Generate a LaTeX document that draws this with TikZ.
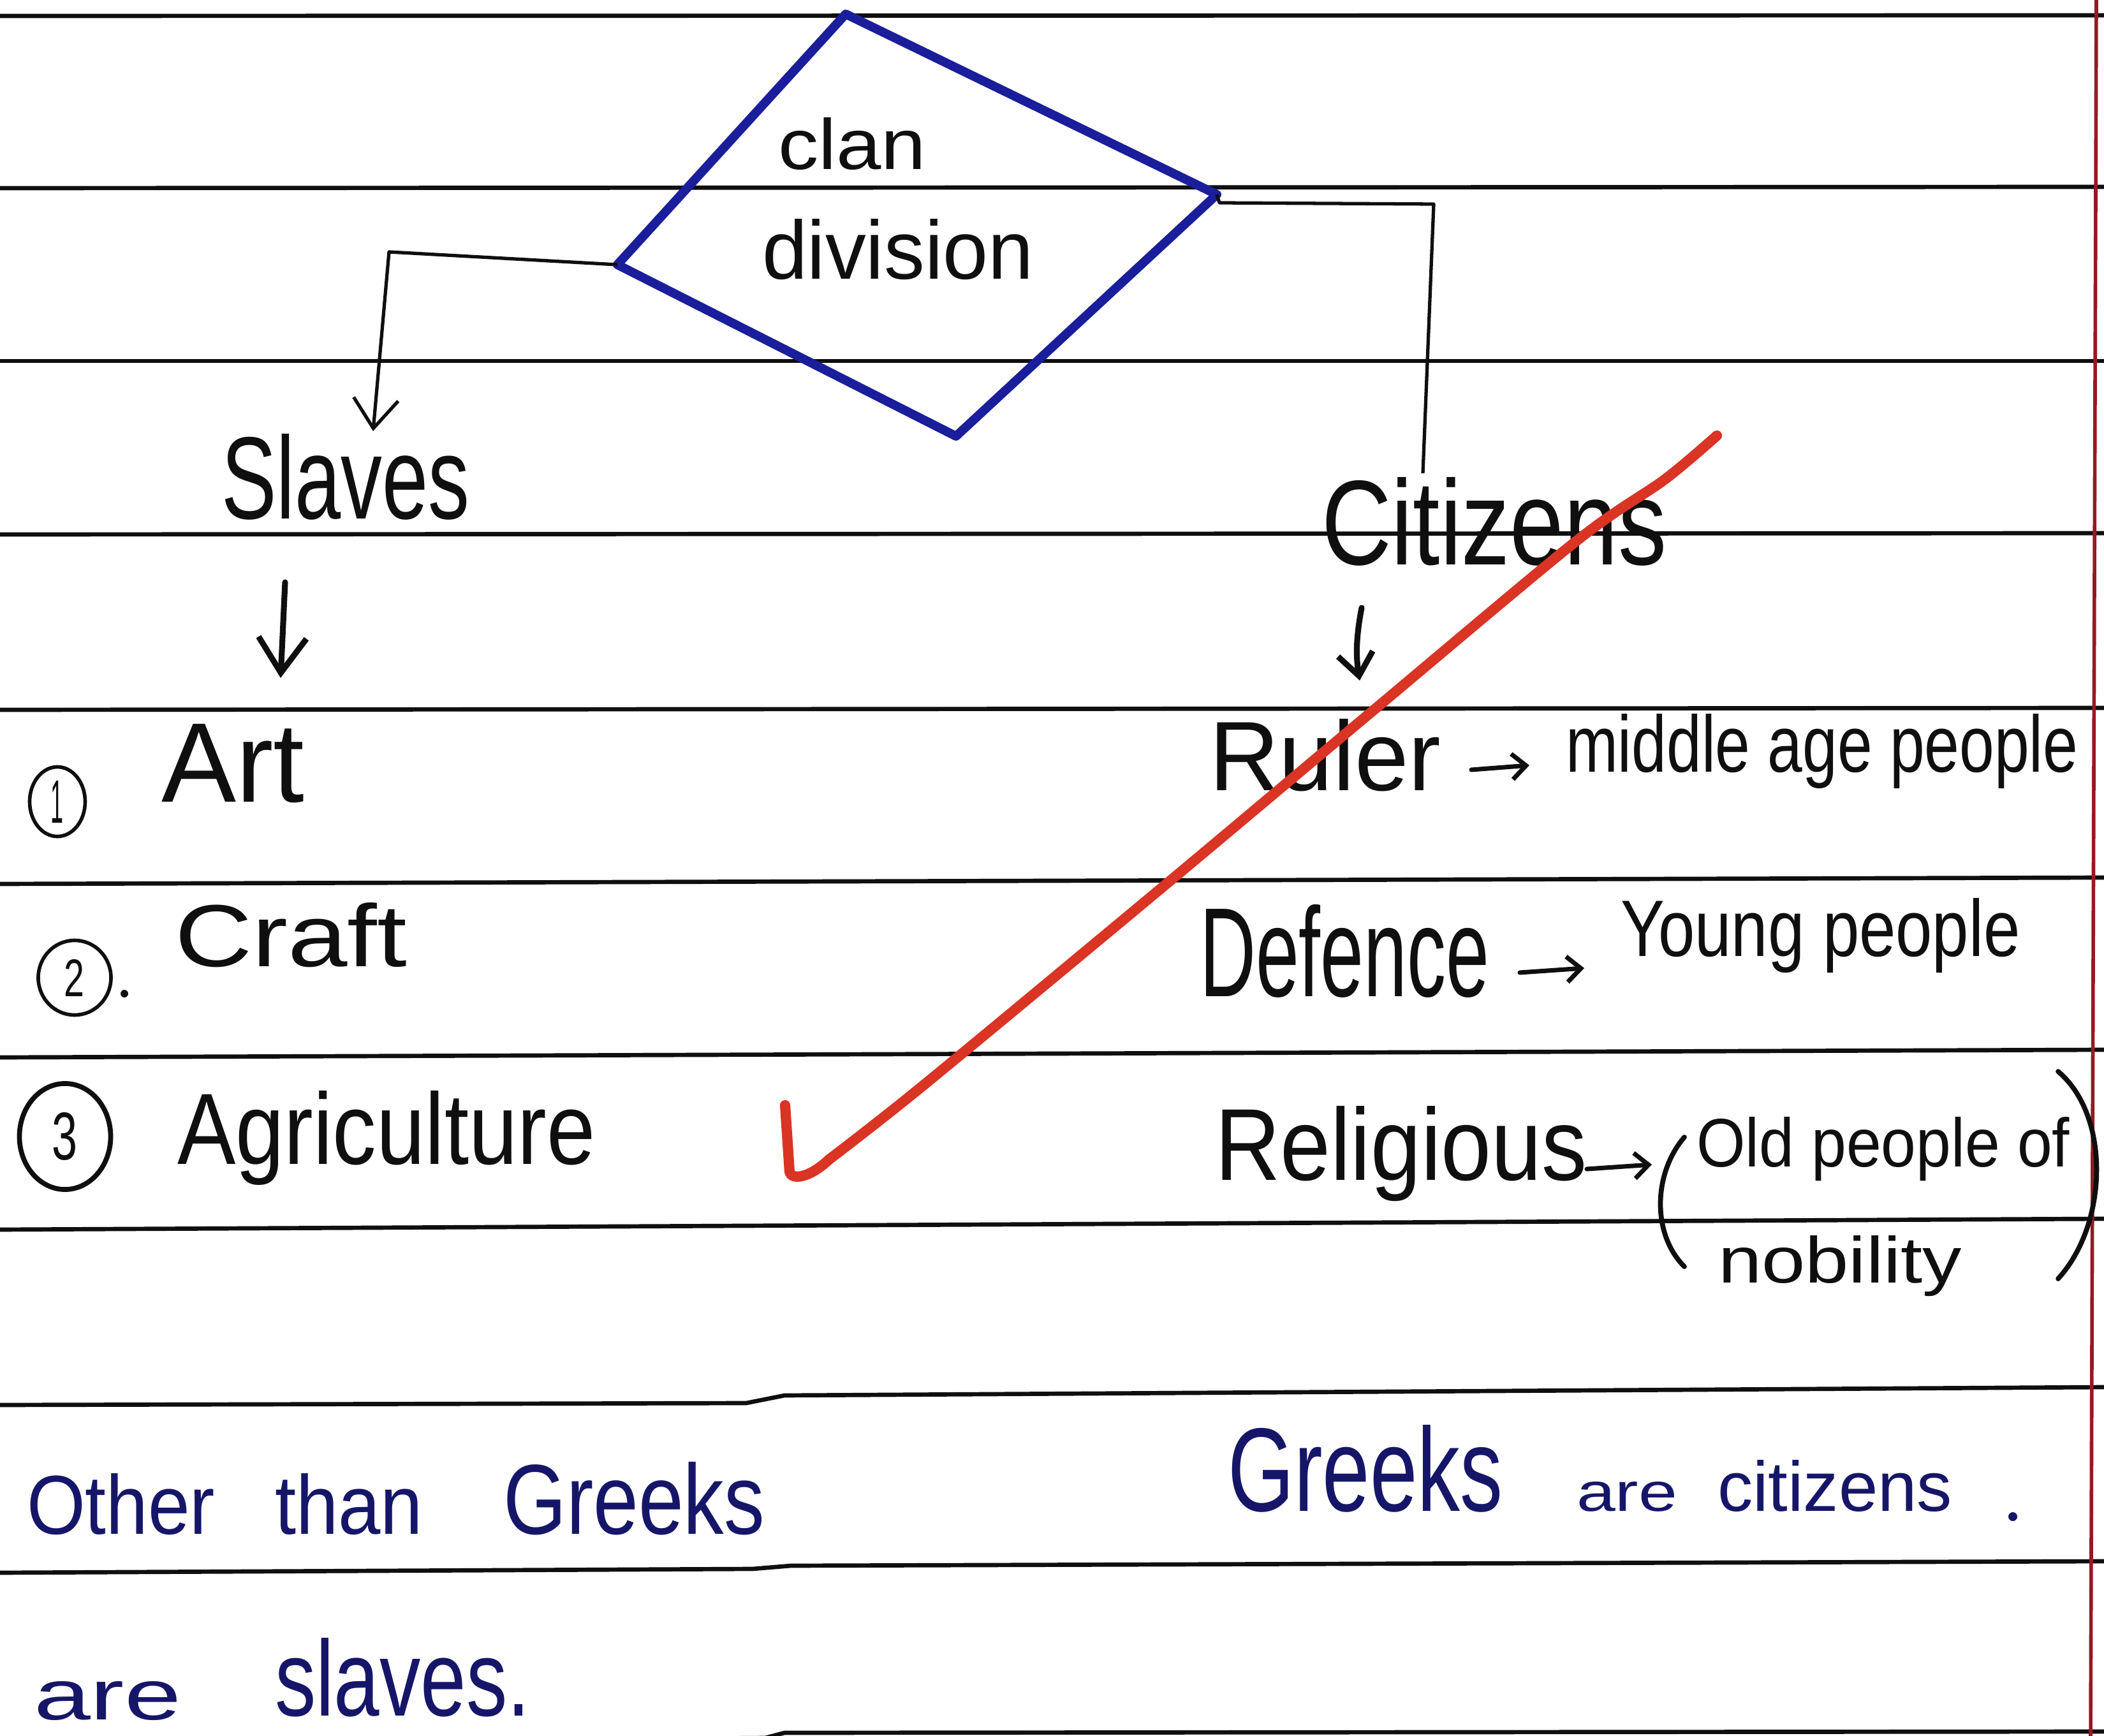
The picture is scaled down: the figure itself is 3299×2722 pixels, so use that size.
\documentclass[tikz,border=0pt]{standalone}
\usepackage{fontspec}
\setmainfont{Liberation Sans}
\usetikzlibrary{arrows.meta,shapes.geometric}
\definecolor{ink}{RGB}{15,15,15}
\definecolor{diamondblue}{RGB}{26,30,155}
\definecolor{bluepen}{RGB}{22,22,105}
\definecolor{redpen}{RGB}{218,52,36}
\definecolor{marginred}{RGB}{150,25,35}
\newcommand{\hw}[3]{\resizebox{#1cm}{#2cm}{#3}}
\begin{document}
\begin{tikzpicture}[x=0.01cm,y=-0.01cm,
  rule/.style={draw=ink,line width=1.9pt},
  txt/.style={inner sep=0pt,outer sep=0pt,anchor=base west,text=ink},
  btxt/.style={txt,text=bluepen},
  conn/.style={draw=ink,line width=1.5pt,line join=round},
  pen/.style={draw=ink,line width=2.6pt,line cap=round,line join=round},
  diam/.style={draw=diamondblue,line width=4pt,line join=round},
  circnum/.style={ellipse,draw=ink,line width=1.6pt,inner sep=0pt,text=ink},
  bigbarb/.style={-{Straight Barb[length=5.5mm,width=7.5mm]}},
  smallbarb/.style={-{Straight Barb[length=3.5mm,width=5.5mm]}},
  linkbarb/.style={-{Straight Barb[length=4.6mm,width=7mm]}},
  tinybarb/.style={-{Straight Barb[length=2.2mm,width=4mm]}},
  redstroke/.style={draw=redpen,line width=4.6pt,line cap=round,line join=round}
]
\fill[white] (0,0) rectangle (3299,2722);
\useasboundingbox (0,0) rectangle (3299,2722);

% ruled lines
\foreach \a/\b in {25/24,295/293,566/566,838/836,1113/1110,1386/1376,1658/1646,1928/1911}
  \draw[rule] (0,\a) -- (3299,\b);
\draw[rule] (0,2203) -- (1170,2200) -- (1230,2188) -- (3299,2175);
\draw[rule] (0,2466) -- (1180,2460) -- (1240,2455) -- (3299,2448);
\draw[rule] (0,2735) -- (1200,2725) -- (1230,2717) -- (3299,2715);
% margin
\draw[draw=marginred,line width=1.6pt] (3287,0) -- (3278,2722);

% diamond
\coordinate (dT) at (1326,22);
\coordinate (dR) at (1908,305);
\coordinate (dB) at (1499,684);
\coordinate (dL) at (968,415);
\draw[diam] (dT) -- (dR) -- (dB) -- (dL) -- cycle;
\node[txt] (clan) at (1220,266) {\hw{2.32}{0.81}{clan}};
\node[txt] (division) at (1195,438) {\hw{4.25}{0.94}{division}};

% headings
\node[txt] (slaves) at (347,814) {\hw{3.89}{1.33}{Slaves}};
\node[txt] (citizens) at (2072,886) {\hw{5.41}{1.37}{Citizens}};

% connectors from diamond
\coordinate (lBend) at (610,395);
\coordinate (sTip) at (585,676);
\draw[conn,linkbarb] (dL) -- (lBend) -- (sTip);
\coordinate (rStart) at (1912,318);
\coordinate (rBend) at (2248,320);
\coordinate (cTop) at (2231,742);
\draw[conn] (dR) -- (rStart) -- (rBend) -- (cTop);

% down arrows
\coordinate (sA1) at (447,913);
\coordinate (sA2) at (440,1063);
\draw[pen,bigbarb] (sA1) -- (sA2);
\coordinate (cA1) at (2135,953);
\coordinate (cA2) at (2132,1067);
\draw[pen,smallbarb] (cA1) .. controls (2126,1000) and (2126,1030) .. (cA2);

% left list
\node[circnum,minimum width=0.87cm,minimum height=1.09cm] (c1) at (90,1257) {\hw{0.2}{0.66}{1}};
\node[txt] (art) at (253,1258) {\hw{2.24}{1.22}{Art}};
\node[circnum,minimum width=1.14cm,minimum height=1.17cm] (c2) at (117,1533) {\hw{0.32}{0.58}{2}};
\fill[ink] (195,1558) circle (6);
\node[txt] (craft) at (274,1515) {\hw{3.64}{1.0}{Craft}};
\node[circnum,line width=2.2pt,minimum width=1.43cm,minimum height=1.66cm] (c3) at (102,1782) {\hw{0.4}{0.74}{3}};
\node[txt] (agri) at (278,1825) {\hw{6.55}{1.15}{Agriculture}};

% right list
\node[txt] (ruler) at (1896,1239) {\hw{3.63}{1.12}{Ruler}};
\coordinate (r1) at (2307,1207);
\coordinate (r2) at (2398,1200);
\draw[pen,line width=2pt,tinybarb] (r1) -- (r2);
\node[txt] (middle) at (2455,1211) {\hw{8.03}{0.91}{middle age people}};

\node[txt] (defence) at (1881,1562) {\hw{4.54}{1.44}{Defence}};
\coordinate (d1) at (2383,1525);
\coordinate (d2) at (2484,1518);
\draw[pen,line width=2pt,tinybarb] (d1) -- (d2);
\node[txt] (young) at (2541,1499) {\hw{6.26}{0.91}{Young people}};

\node[txt] (religious) at (1905,1850) {\hw{5.83}{1.16}{Religious}};
\coordinate (g1) at (2488,1833);
\coordinate (g2) at (2590,1826);
\draw[pen,line width=2pt,tinybarb] (g1) -- (g2);
\draw[pen,line width=2.2pt] (2641,1783) .. controls (2592,1840) and (2590,1935) .. (2641,1986);
\node[txt] (oldpeople) at (2660,1829) {\hw{5.85}{0.78}{Old people of}};
\node[txt] (nobility) at (2694,2011) {\hw{3.82}{0.74}{nobility}};
\draw[pen,line width=2.2pt] (3227,1680) .. controls (3310,1750) and (3305,1920) .. (3227,2005);

% blue notes
\node[btxt] (other) at (42,2405) {\hw{2.95}{0.95}{Other}};
\node[btxt] (than) at (431,2405) {\hw{2.32}{0.95}{than}};
\node[btxt] (greeksL) at (789,2405) {\hw{4.10}{1.13}{Greeks}};
\node[btxt] (areL) at (53,2696) {\hw{2.31}{0.60}{are}};
\node[btxt] (slavesL) at (431,2690) {\hw{4.00}{1.22}{slaves.}};
\node[btxt] (greeksR) at (1925,2369) {\hw{4.31}{1.35}{Greeks}};
\node[btxt] (areR) at (2472,2369) {\hw{1.58}{0.46}{are}};
\node[btxt] (citizensR) at (2693,2369) {\hw{3.68}{0.80}{citizens}};
\fill[bluepen] (3156,2378) circle (7);

% red tick
\draw[redstroke] plot[smooth,tension=0.5] coordinates {(2692,683) (2610,752) (2472,848) (2146,1120) (1830,1385) (1450,1700) (1300,1818)}
  .. controls (1268,1848) and (1242,1850) .. (1238,1838) -- (1231,1733);
\end{tikzpicture}
\end{document}
